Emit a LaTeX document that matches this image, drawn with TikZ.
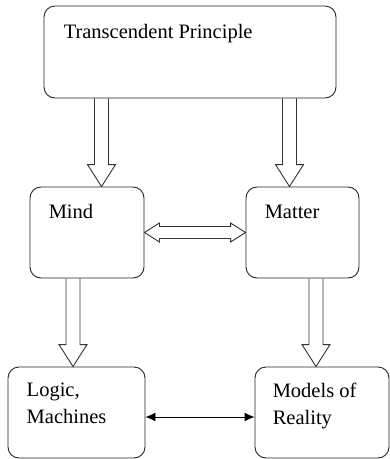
\documentclass[tikz,border=0pt]{standalone}
\usepackage{fontspec}
\setmainfont{Liberation Serif}
\usetikzlibrary{arrows.meta, calc}

\begin{document}
\begin{tikzpicture}[x=1pt, y=-1pt,
			box/.style={rectangle, draw=black!85, line width=0.9pt, rounded corners=11pt},
			tag/.style={inner sep=0pt, anchor=north west, align=left, font=\fontsize{20.5}{27}\selectfont},
			down/.style={draw=black!80, line width=0.9pt, to path={let \p1=(\tikztostart), \p2=(\tikztotarget) in
				(\x2-7pt,\y1) -- (\x2-7pt,\y2+22pt) -- (\x2-14pt,\y2+22pt) -- (\x2,\y2) -- (\x2+14pt,\y2+22pt) -- (\x2+7pt,\y2+22pt) -- (\x2+7pt,\y1)}},
			twoway/.style={draw=black!80, line width=0.9pt, to path={let \p1=(\tikztostart), \p2=(\tikztotarget) in
				(\x1,\y1) -- (\x1+15pt,\y1+9.5pt) -- (\x1+15pt,\y1+6pt) -- (\x2-15pt,\y1+6pt) -- (\x2-15pt,\y1+9.5pt) -- (\x2,\y1)
				-- (\x2-15pt,\y1-9.5pt) -- (\x2-15pt,\y1-6pt) -- (\x1+15pt,\y1-6pt) -- (\x1+15pt,\y1-9.5pt) -- cycle}},
			link/.style={{Latex[length=10pt,width=9pt]}-{Latex[length=10pt,width=9pt]}, line width=0.9pt}
		]
		\useasboundingbox (0,0) rectangle (390,459);
		
		\node[box, minimum width=292pt, minimum height=92pt] (top) at (190,52) {};
		\node[box, minimum width=114pt, minimum height=91pt] (mind) at (87,232.5) {};
		\node[box, minimum width=113pt, minimum height=91pt] (matter) at (302.5,232.5) {};
		\node[box, minimum width=137pt, minimum height=91pt] (logic) at (76.5,412.5) {};
		\node[box, minimum width=134pt, minimum height=91pt] (models) at (322,412.5) {};
		
		\node[tag] (toptext) at ([shift={(20,19)}]top.north west) {Transcendent Principle};
		\node[tag] (mindtext) at ([shift={(19,18)}]mind.north west) {Mind};
		\node[tag] (mattertext) at ([shift={(19,18)}]matter.north west) {Matter};
		\node[tag] (logictext) at ([shift={(19,16)}]logic.north west) {Logic,\\Machines};
		\node[tag] (modelstext) at ([shift={(18,16)}]models.north west) {Models of\\Reality};
		
		\draw[down] (top.south) to ([xshift=14.5pt]mind.north);
		\draw[down] (top.south) to ([xshift=-13pt]matter.north);
		\draw[down] (mind.south) to ([xshift=-3.5pt]logic.north);
		\draw[down] (matter.south) to ([xshift=-6pt]models.north);
		\draw[twoway] (mind.east) to (matter.west);
		\draw[link] ([yshift=-4.5pt]logic.east) -- ([yshift=-4.5pt]models.west);
		\end{tikzpicture}
\end{document}
